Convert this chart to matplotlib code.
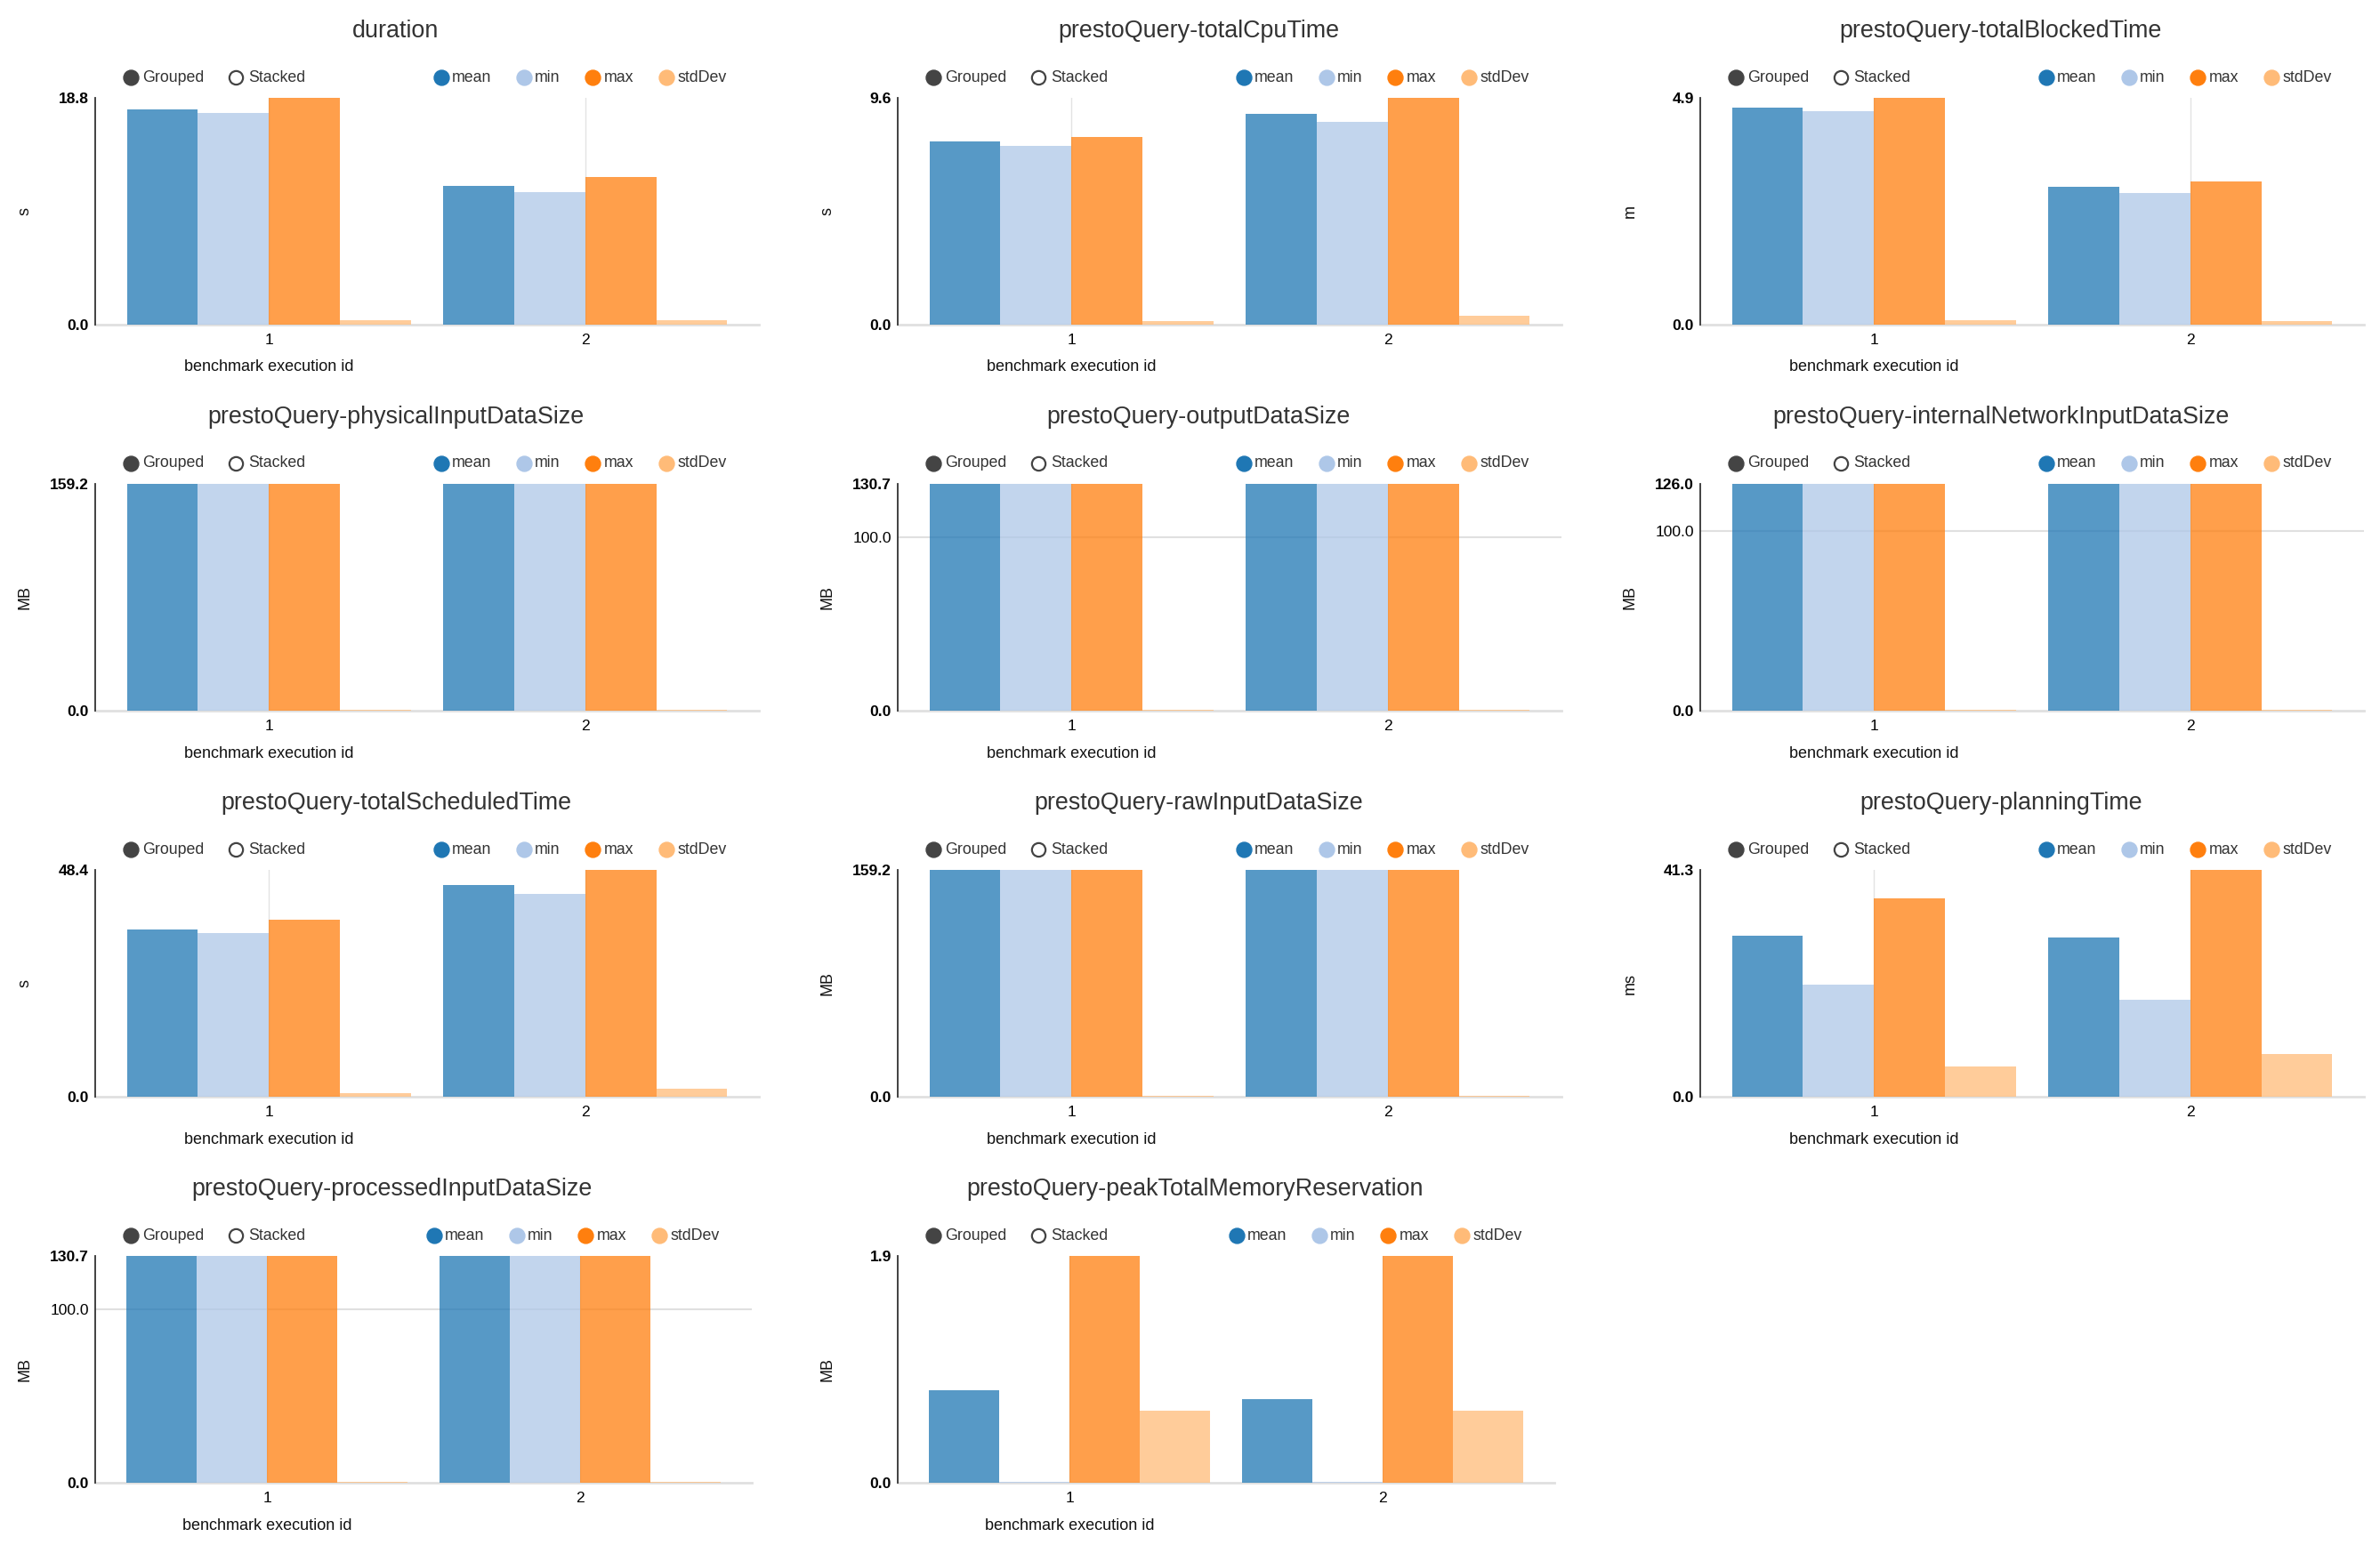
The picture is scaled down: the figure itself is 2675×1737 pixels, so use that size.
import numpy as np
import matplotlib
matplotlib.use("Agg")
import matplotlib.pyplot as plt
from matplotlib.lines import Line2D

plt.rcParams['font.family'] = ['Liberation Sans', 'DejaVu Sans']

# ---------------- data ----------------
titles = ["duration", "prestoQuery-totalCpuTime", "prestoQuery-totalBlockedTime",
          "prestoQuery-physicalInputDataSize", "prestoQuery-outputDataSize",
          "prestoQuery-internalNetworkInputDataSize", "prestoQuery-totalScheduledTime",
          "prestoQuery-rawInputDataSize", "prestoQuery-planningTime",
          "prestoQuery-processedInputDataSize", "prestoQuery-peakTotalMemoryReservation"]
units = ["s", "s", "m", "MB", "MB", "MB", "s", "MB", "ms", "MB", "MB"]
execution_ids = ["1", "2"]
series_names = ["mean", "min", "max", "stdDev"]
series_colors = ["#1f77b4", "#aec7e8", "#ff7f0e", "#ffbb78"]

mean_vals = [[17.87, 11.48], [7.76, 8.92], [4.68, 2.97], [159.2, 159.2], [130.7, 130.7],
             [126.0, 126.0], [35.65, 45.23], [159.2, 159.2], [29.39, 28.96],
             [130.7, 130.7], [0.772, 0.697]]
min_vals = [[17.55, 10.98], [7.57, 8.58], [4.61, 2.84], [159.2, 159.2], [130.7, 130.7],
            [126.0, 126.0], [34.89, 43.26], [159.2, 159.2], [20.41, 17.65],
            [130.7, 130.7], [0.006, 0.006]]
max_vals = [[18.8, 12.21], [7.93, 9.6], [4.9, 3.09], [159.2, 159.2], [130.7, 130.7],
            [126.0, 126.0], [37.81, 48.4], [159.2, 159.2], [36.16, 41.3],
            [130.7, 130.7], [1.9, 1.9]]
std_vals = [[0.37, 0.37], [0.14, 0.38], [0.09, 0.07], [0.5, 0.5], [0.4, 0.4],
            [0.4, 0.4], [0.82, 1.65], [0.5, 0.5], [5.47, 7.85], [0.4, 0.4],
            [0.605, 0.603]]
mid_ticks = [[], [], [], [], [100.0], [100.0], [], [], [], [100.0], []]

# ---------------- layout ----------------
W, H = 2675, 1737
fig = plt.figure(figsize=(W / 100, H / 100), dpi=100)

def fx(px):
    return px / W

def fy(py):
    return 1 - py / H

col_left = [107, 1009, 1911]
row_top = [110, 544, 978, 1412]
AX_H = 255

for i, title in enumerate(titles):
    row, col = divmod(i, 3)
    l = col_left[col]
    t = row_top[row]
    w = 746 if row < 3 else 738
    ax = fig.add_axes([fx(l), fy(t + AX_H), w / W, AX_H / H])

    x = np.arange(len(execution_ids))
    bw = 0.225
    series = [mean_vals[i], min_vals[i], max_vals[i], std_vals[i]]
    for k, (vals, c) in enumerate(zip(series, series_colors)):
        ax.bar(x + (k - 1.5) * bw, vals, width=bw, color=c, alpha=0.75,
               linewidth=0, zorder=2)

    top = max(max(s) for s in series)
    ax.set_xlim(-0.55, 1.55)
    ax.set_ylim(0, top)
    ticks = [0.0] + mid_ticks[i] + [top]
    ax.set_yticks(ticks)
    ax.set_yticklabels(["%.1f" % v for v in ticks])
    for lab, v in zip(ax.get_yticklabels(), ticks):
        lab.set_fontweight("bold" if (v == 0.0 or v == top) else "normal")
        lab.set_fontsize(12.6)
    ax.set_xticks(x)
    ax.set_xticklabels(execution_ids, fontsize=12.6)
    ax.tick_params(axis="y", length=0, pad=5)
    ax.tick_params(axis="x", length=0, pad=7)

    for xv in x:
        ax.axvline(xv, color="#e3e3e3", lw=1.0, zorder=1)
    for m in mid_ticks[i]:
        ax.axhline(m, color="#e0e0e0", lw=1.5, zorder=1)

    for s in ["top", "right"]:
        ax.spines[s].set_visible(False)
    ax.spines["left"].set_color("#333333")
    ax.spines["left"].set_linewidth(1.3)
    ax.spines["bottom"].set_color("#e0e0e0")
    ax.spines["bottom"].set_linewidth(2)
    ax.spines["bottom"].set_zorder(1)

    # x label centered under first category
    xl = l + (0 + 0.55) / 2.1 * w
    fig.text(fx(xl), fy(t + AX_H + 48), "benchmark execution id", ha="center",
             va="center", fontsize=13, color="#111111")
    # y label
    fig.text(fx(l - 79), fy(t + AX_H / 2), units[i], rotation=90, ha="center",
             va="center", fontsize=13, color="#111111")
    # title
    fig.text(fx(l + w / 2 - 35), fy(t - 75), title, ha="center", va="center",
             fontsize=19.4, color="#333333")

    # legend
    ly = t - 23
    fig.add_artist(Line2D([fx(l + 40)], [fy(ly)], marker="o", markersize=12.2,
                          markerfacecolor="#444444", markeredgecolor="#444444",
                          linestyle="none", transform=fig.transFigure))
    fig.text(fx(l + 53), fy(ly), "Grouped", ha="left", va="center",
             fontsize=12.8, color="#333333")
    fig.add_artist(Line2D([fx(l + 158)], [fy(ly)], marker="o", markersize=11,
                          markerfacecolor="white", markeredgecolor="#444444",
                          markeredgewidth=1.6, linestyle="none",
                          transform=fig.transFigure))
    fig.text(fx(l + 172), fy(ly), "Stacked", ha="left", va="center",
             fontsize=12.8, color="#333333")
    r = l + w
    offs = [(-357, -345), (-264, -252), (-187, -174), (-104, -92)]
    for name, c, (co, to) in zip(series_names, series_colors, offs):
        fig.add_artist(Line2D([fx(r + co)], [fy(ly)], marker="o", markersize=12.2,
                              markerfacecolor=c, markeredgecolor=c,
                              linestyle="none", transform=fig.transFigure))
        fig.text(fx(r + to), fy(ly), name, ha="left", va="center",
                 fontsize=12.8, color="#333333")

fig.savefig("out.png", dpi=100)
